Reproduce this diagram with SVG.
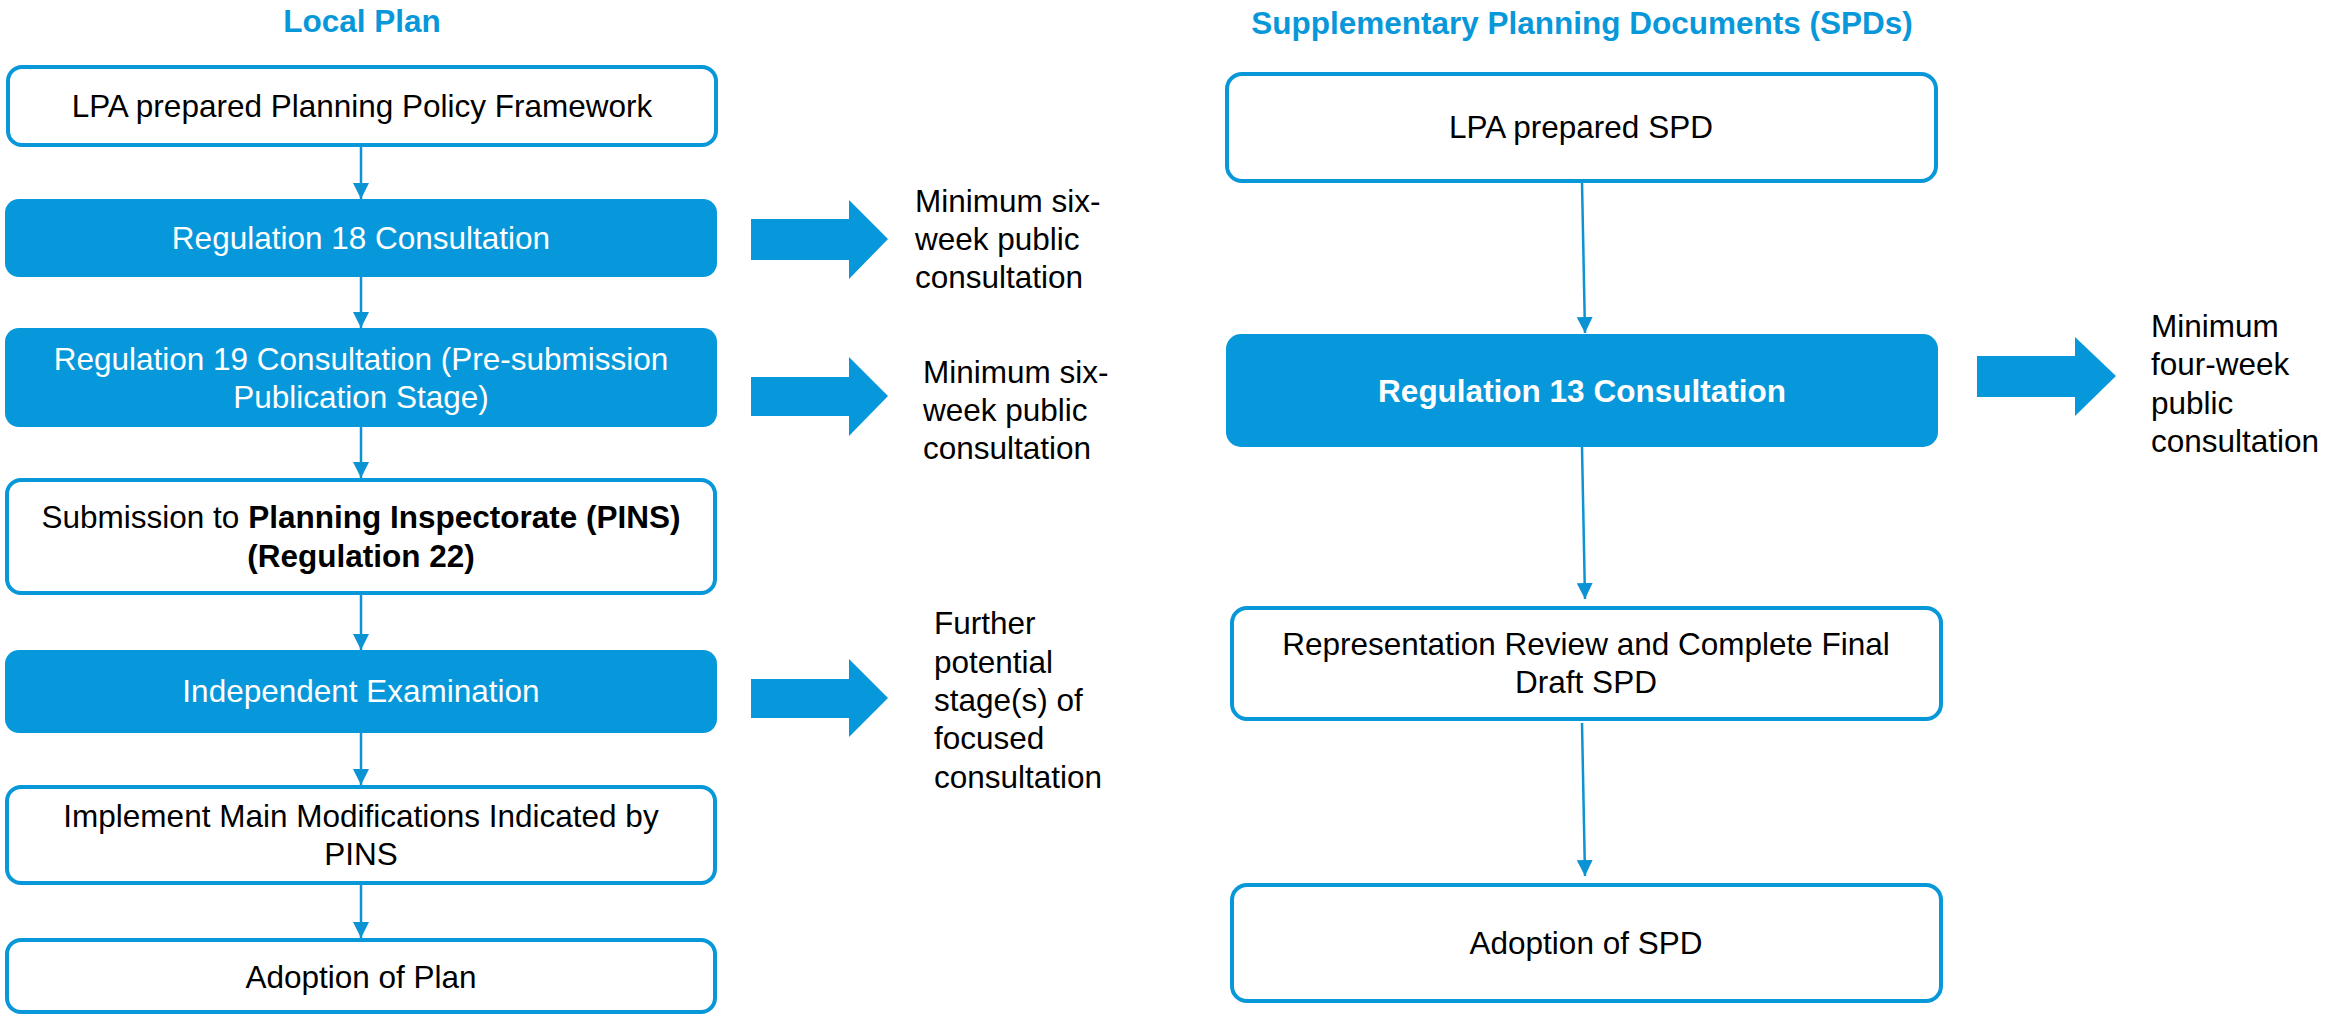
<svg xmlns="http://www.w3.org/2000/svg" width="2349" height="1015" viewBox="0 0 2349 1015">
<defs>
<style>
text{font-family:"Liberation Sans",Arial,sans-serif;font-size:31.5px;fill:#000}
.title{font-weight:bold;fill:#0898DA;text-anchor:middle}
.c{text-anchor:middle}
.w{fill:#fff}
.b{font-weight:bold}
.box{fill:#fff;stroke:#0898DA;stroke-width:4}
.fill{fill:#0798DB;stroke:none}
.con{stroke:#0B93D3;stroke-width:2.5;fill:none}
.blk{fill:#0798DB}
</style>
<marker id="ah" markerUnits="userSpaceOnUse" markerWidth="16" markerHeight="16" refX="16" refY="8" orient="auto">
<path d="M0,0 L16,8 L0,16 z" fill="#0B93D3"/>
</marker>
</defs>
<rect width="2349" height="1015" fill="#fff"/>
<text class="title" x="362" y="32">Local Plan</text>
<text class="title" x="1582" y="34">Supplementary Planning Documents (SPDs)</text>

<g id="connectors">
<line class="con" x1="361" y1="146" x2="361" y2="199" marker-end="url(#ah)"/>
<line class="con" x1="361" y1="277" x2="361" y2="328" marker-end="url(#ah)"/>
<line class="con" x1="361" y1="427" x2="361" y2="478" marker-end="url(#ah)"/>
<line class="con" x1="361" y1="594" x2="361" y2="650" marker-end="url(#ah)"/>
<line class="con" x1="361" y1="733" x2="361" y2="785" marker-end="url(#ah)"/>
<line class="con" x1="361" y1="884" x2="361" y2="938" marker-end="url(#ah)"/>
<line class="con" x1="1582" y1="182" x2="1585" y2="333" marker-end="url(#ah)"/>
<line class="con" x1="1582" y1="447" x2="1585" y2="599" marker-end="url(#ah)"/>
<line class="con" x1="1582" y1="723" x2="1585" y2="876" marker-end="url(#ah)"/>
<polygon id="blk1" class="blk" points="751,219 849,219 849,200 888,239 849,279 849,260 751,260"/>
<polygon id="blk2" class="blk" points="751,377 849,377 849,357 888,396 849,436 849,416 751,416"/>
<polygon id="blk3" class="blk" points="751,679 849,679 849,659 888,698 849,737 849,718 751,718"/>
<polygon id="blk4" class="blk" points="1977,356 2075,356 2075,337 2116,376 2075,416 2075,397 1977,397"/>
</g>

<g id="lp1"><rect class="box" x="8" y="67" width="708" height="78" rx="14"/>
<text class="c" x="362" y="117">LPA prepared Planning Policy Framework</text></g>
<g id="lp2"><rect class="fill" x="5" y="199" width="712" height="78" rx="14"/>
<text class="c w" x="361" y="249">Regulation 18 Consultation</text></g>
<g id="lp3"><rect class="fill" x="5" y="328" width="712" height="99" rx="14"/>
<text class="c w" x="361" y="370">Regulation 19 Consultation (Pre-submission</text>
<text class="c w" x="361" y="408">Publication Stage)</text></g>
<g id="lp4"><rect class="box" x="7" y="480" width="708" height="113" rx="14"/>
<text class="c" x="361" y="528">Submission to <tspan class="b">Planning Inspectorate (PINS)</tspan></text>
<text class="c b" x="361" y="567">(Regulation 22)</text></g>
<g id="lp5"><rect class="fill" x="5" y="650" width="712" height="83" rx="14"/>
<text class="c w" x="361" y="702">Independent Examination</text></g>
<g id="lp6"><rect class="box" x="7" y="787" width="708" height="96" rx="14"/>
<text class="c" x="361" y="827">Implement Main Modifications Indicated by</text>
<text class="c" x="361" y="865">PINS</text></g>
<g id="lp7"><rect class="box" x="7" y="940" width="708" height="72" rx="14"/>
<text class="c" x="361" y="988">Adoption of Plan</text></g>

<g id="note1"><text x="915" y="212">Minimum six-</text><text x="915" y="250">week public</text><text x="915" y="288">consultation</text></g>
<g id="note2"><text x="923" y="383">Minimum six-</text><text x="923" y="421">week public</text><text x="923" y="459">consultation</text></g>
<g id="note3"><text x="934" y="634">Further</text><text x="934" y="673">potential</text><text x="934" y="711">stage(s) of</text><text x="934" y="749">focused</text><text x="934" y="788">consultation</text></g>

<g id="spd1"><rect class="box" x="1227" y="74" width="709" height="107" rx="15"/>
<text class="c" x="1581" y="138">LPA prepared SPD</text></g>
<g id="spd2"><rect class="fill" x="1226" y="334" width="712" height="113" rx="15"/>
<text class="c w b" x="1582" y="402">Regulation 13 Consultation</text></g>
<g id="spd3"><rect class="box" x="1232" y="608" width="709" height="111" rx="15"/>
<text class="c" x="1586" y="655">Representation Review and Complete Final</text>
<text class="c" x="1586" y="693">Draft SPD</text></g>
<g id="spd4"><rect class="box" x="1232" y="885" width="709" height="116" rx="15"/>
<text class="c" x="1586" y="954">Adoption of SPD</text></g>
<g id="note4"><text x="2151" y="337">Minimum</text><text x="2151" y="375">four-week</text><text x="2151" y="414">public</text><text x="2151" y="452">consultation</text></g>
</svg>
